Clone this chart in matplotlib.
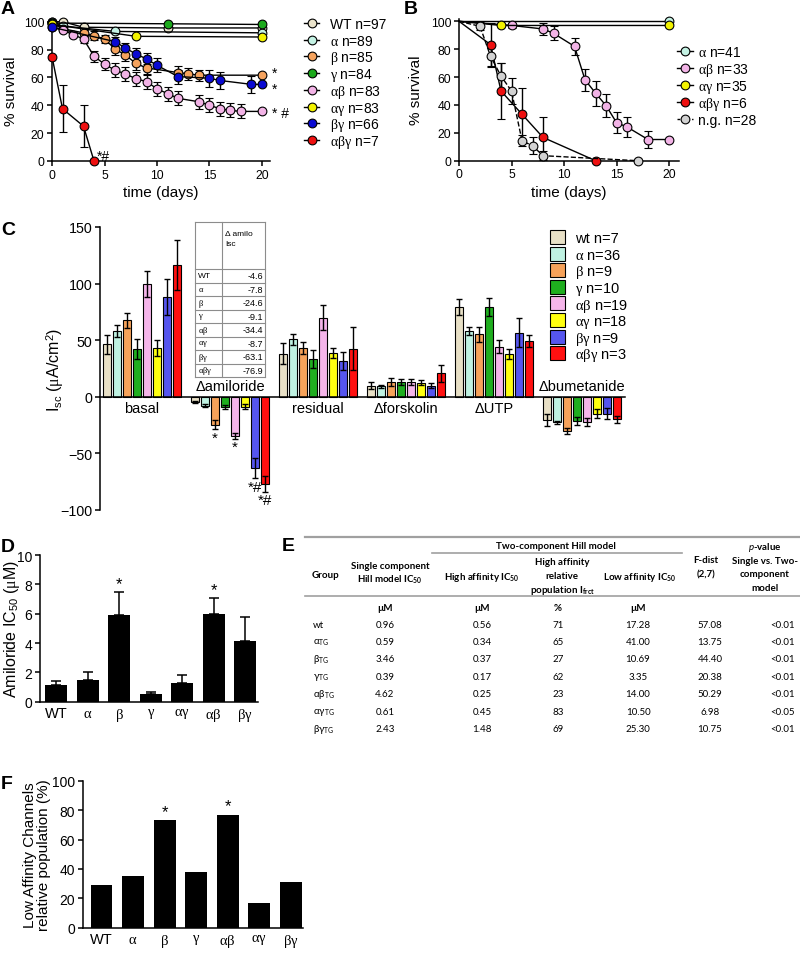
import re
import numpy as np
import matplotlib
matplotlib.use('Agg')
import matplotlib.pyplot as plt

plt.rcParams['font.family'] = ['Liberation Sans', 'DejaVu Sans']
plt.rcParams['mathtext.fontset'] = 'custom'
plt.rcParams['mathtext.rm'] = 'Liberation Serif'
plt.rcParams['mathtext.it'] = 'Lato:italic'
plt.rcParams['mathtext.bf'] = 'Liberation Serif:bold'
plt.rcParams['axes.linewidth'] = 1.1
plt.rcParams['xtick.major.width'] = 1.1
plt.rcParams['ytick.major.width'] = 1.1
plt.rcParams['xtick.major.size'] = 3.5
plt.rcParams['ytick.major.size'] = 3.5

# ======================= DATA =======================
# Panel A: survival curves
A_labels = ['WT n=97', 'α n=89', 'β n=85', 'γ n=84', 'αβ n=83', 'αγ n=83', 'βγ n=66', 'αβγ n=7']
A_days = [
    [0, 1, 3, 11, 20],
    [0, 1, 6, 20],
    [0, 1, 3, 4, 5, 6, 7, 8, 9, 12, 13, 14, 20],
    [0, 11, 20],
    [0, 1, 2, 3, 4, 5, 6, 7, 8, 9, 10, 11, 12, 14, 15, 16, 17, 18, 20],
    [0, 8, 20],
    [0, 6, 7, 8, 9, 10, 12, 15, 16, 19, 20],
    [0, 1, 3, 4],
]
A_surv = [
    [100, 100, 96, 95.5, 95.5],
    [100, 97, 93, 92],
    [99, 95, 92, 90, 87.6, 80.4, 76, 70, 66.8, 63.5, 62.5, 61.6, 61.6],
    [99, 98.5, 98],
    [96, 94, 90.7, 87.6, 75.2, 69.5, 65.2, 62.5, 59, 57, 51.8, 48.4, 45, 42.5, 40, 37.5, 36.3, 35.6, 35.6],
    [98, 89.5, 89],
    [96, 85.7, 81, 76.8, 73.3, 68.7, 60.6, 59.4, 57.8, 55, 55],
    [75, 37.5, 25, 0],
]
A_err = [
    [0, 0, 0, 0, 0],
    [0, 0, 0, 0],
    [0, 1.5, 2, 3, 3, 4, 4, 4.5, 4.5, 4.5, 4, 4, 0],
    [0, 0, 0],
    [0, 1, 2, 3, 4, 4.5, 5, 5, 5, 5, 5, 5, 5, 5, 5, 5, 5, 5, 0],
    [0, 0, 0],
    [0, 3, 4, 4, 4, 5, 5, 6, 6, 6, 0],
    [0, 17, 15, 0],
]
A_notes = [(20.95, 63, '*'), (20.95, 52, '*'), (20.95, 34.5, '* #'), (4.3, 3.5, '*#')]

# Panel B: survival curves
B_labels = ['α n=41', 'αβ n=33', 'αγ n=35', 'αβγ n=6', 'n.g. n=28']
B_days = [
    [0, 20],
    [0, 5, 8, 9, 11, 12, 13, 14, 15, 16, 18, 20],
    [0, 4, 20],
    [0, 3, 4, 6, 8, 13],
    [0, 2, 3, 4, 5, 6, 7, 8, 17],
]
B_surv = [
    [100, 100],
    [100, 97, 94.5, 91.4, 82, 58, 48.5, 39.5, 27.3, 24.2, 15.2, 15.2],
    [100, 97, 97],
    [100, 83.3, 50, 33.3, 16.7, 0],
    [100, 96.4, 75, 60.7, 50, 14.3, 10.7, 3.6, 0],
]
B_err = [
    [0, 0],
    [0, 1.5, 4, 5, 6, 8, 9, 8.5, 7.5, 7, 6, 0],
    [0, 0, 0],
    [0, 15.5, 20, 19, 15, 0],
    [0, 3, 8, 9.5, 9, 4, 6, 3, 0],
]

# Panel C: short-circuit currents
C_labels = ['wt n=7', 'α n=36', 'β n=9', 'γ n=10', 'αβ n=19', 'αγ n=18', 'βγ n=9', 'αβγ n=3']
C_groups = ['basal', 'Δamiloride', 'residual', 'Δforskolin', 'ΔUTP', 'Δbumetanide']
C_basal = [46.5, 58.0, 67.6, 42.0, 99.4, 43.0, 88.5, 116.5]
C_basal_err = [8.5, 5.5, 6.8, 9.0, 11.6, 7.0, 15.9, 22.0]
C_amil = [-4.6, -7.8, -24.6, -9.1, -34.4, -8.7, -63.1, -76.9]
C_amil_err = [1.0, 1.0, 4.0, 2.0, 2.5, 2.0, 9.0, 7.0]
C_resid = [38.2, 50.9, 43.5, 33.2, 70.0, 39.1, 31.8, 42.6]
C_resid_err = [9.2, 5.0, 5.3, 8.0, 11.0, 4.4, 7.9, 19.2]
C_forsk = [9.7, 9.1, 12.9, 12.9, 12.9, 12.4, 9.7, 20.6]
C_forsk_err = [3.2, 1.2, 3.3, 2.7, 2.7, 2.0, 2.3, 7.9]
C_utp = [79.4, 58.2, 55.3, 79.7, 44.4, 37.6, 56.8, 49.4]
C_utp_err = [6.8, 3.8, 6.7, 7.9, 5.6, 4.4, 13.2, 5.3]
C_bumet = [-20.6, -22.4, -30.3, -21.5, -22.4, -15.0, -15.0, -20.0]
C_bumet_err = [5.3, 1.4, 2.9, 3.8, 3.5, 4.0, 5.0, 3.0]
C_amil_sig = ['', '', '*', '', '*', '', '*#', '*#']
C_table_rows = ['WT', 'α', 'β', 'γ', 'αβ', 'αγ', 'βγ', 'αβγ']

# Panel D: amiloride IC50
D_groups = ['WT', 'α', 'β', 'γ', 'αγ', 'αβ', 'βγ']
D_ic50 = [1.15, 1.5, 5.9, 0.5, 1.25, 6.0, 4.15]
D_err = [0.25, 0.55, 1.6, 0.15, 0.6, 1.1, 1.65]
D_sig = ['', '', '*', '', '', '*', '']

# Panel E: Hill model table
E_groups = ['wt', 'α', 'β', 'γ', 'αβ', 'αγ', 'βγ']
E_single = [0.96, 0.59, 3.46, 0.39, 4.62, 0.61, 2.43]
E_high = [0.56, 0.34, 0.37, 0.17, 0.25, 0.45, 1.48]
E_frct = [71, 65, 27, 62, 23, 83, 69]
E_low = [17.28, 41.00, 10.69, 3.35, 14.00, 10.50, 25.30]
E_fdist = [57.08, 13.75, 44.40, 20.38, 50.29, 6.98, 10.75]
E_p = ['<0.01', '<0.01', '<0.01', '<0.01', '<0.01', '<0.05', '<0.01']

# Panel F: low affinity population
F_groups = ['WT', 'α', 'β', 'γ', 'αβ', 'αγ', 'βγ']
F_pop = [29, 35, 73, 38, 77, 17, 31]
F_sig = ['', '', '*', '', '*', '', '']

# ======================= STYLE =======================
A_colors = ['#ebe4cc', '#c4f2e4', '#f5a35e', '#1caa1c', '#f2b3e6', '#f2f200', '#0a0ad2', '#ee1010']
B_colors = ['#c4f2e4', '#f2b3e6', '#f2f200', '#ee1010', '#d2d2d2']
B_styles = ['-', '-', '-', '-', '--']
C_colors = ['#e8e0c6', '#bff2e2', '#f6a25a', '#1fae1f', '#f5b5ea', '#ffff10', '#5555ee', '#ff1010']

GREEK = {'α': r'\alpha', 'β': r'\beta', 'γ': r'\gamma', 'µ': r'\mu', 'μ': r'\mu'}


def gk(s):
    return re.sub('[αβγµμ]+',
                  lambda m: r'$\mathrm{' + ''.join(GREEK[c] for c in m.group()) + '}$', s)


W, H = 800.0, 954.0
fig = plt.figure(figsize=(8, 9.54), dpi=100)


def px_axes(x0, x1, y0, y1):
    ax = fig.add_axes([x0 / W, 1 - y1 / H, (x1 - x0) / W, (y1 - y0) / H])
    for s in ('top', 'right'):
        ax.spines[s].set_visible(False)
    ax.tick_params(direction='out', colors='black')
    return ax


def ylab_at(ax, x0, x1, xpx):
    ax.yaxis.label.set_va('center')
    ax.yaxis.set_label_coords((xpx - x0) / (x1 - x0), 0.5)


def xlab_at(ax, y0, y1, ypx):
    ax.xaxis.label.set_va('center')
    ax.xaxis.set_label_coords(0.5, (y1 - ypx) / (y1 - y0))


def survival(ax, days, surv, errs, colors, styles, skip_first):
    for t, y, e, c, ls in zip(days, surv, errs, colors, styles):
        e = np.asarray(e, float)
        me = list(range(1, len(t))) if skip_first else None
        ax.errorbar(t, y, yerr=np.where(e > 0, e, np.nan), color='black', lw=1.0, ls=ls,
                    elinewidth=1.0, capsize=3, capthick=1.0, marker='o', ms=6.3,
                    mfc=c, mec='black', mew=0.8, markevery=me, clip_on=False, zorder=3)


# ---------------- Panel A ----------------
ax = px_axes(52, 270.4, 19.9, 162)
survival(ax, A_days, A_surv, A_err, A_colors, ['-'] * 8, False)
ax.set_xlim(0, 20.8)
ax.set_ylim(0, 102)
ax.set_xticks([0, 5, 10, 15, 20])
ax.set_yticks(range(0, 101, 20))
ax.tick_params(labelsize=8.8, pad=2)
ax.set_xlabel('time (days)', fontsize=11)
ax.set_ylabel('% survival', fontsize=11)
ylab_at(ax, 52, 270.4, 11)
xlab_at(ax, 19.9, 162, 193)
for x, y, s in A_notes:
    ax.text(x, y, s, fontsize=10, ha='left', va='center', clip_on=False)

# ---------------- Panel B ----------------
ax = px_axes(459, 678.5, 19.5, 161.7)
survival(ax, B_days, B_surv, B_err, B_colors, B_styles, True)
ax.set_xlim(0, 20.9)
ax.set_ylim(0, 102)
ax.set_xticks([0, 5, 10, 15, 20])
ax.set_yticks(range(0, 101, 20))
ax.tick_params(labelsize=8.8, pad=2)
ax.set_xlabel('time (days)', fontsize=11)
ax.set_ylabel('% survival', fontsize=11)
ylab_at(ax, 459, 678.5, 416)
xlab_at(ax, 19.5, 161.7, 193)

# ---------------- Panel C ----------------
x0C, x1C, first_bar, bar_px = 100, 625, 107, 10.0
ax = px_axes(x0C, x1C, 228, 511)
gap = 8.8
C_vals = [C_basal, C_amil, C_resid, C_forsk, C_utp, C_bumet]
C_errs = [C_basal_err, C_amil_err, C_resid_err, C_forsk_err, C_utp_err, C_bumet_err]
for g, (vals, errs) in enumerate(zip(C_vals, C_errs)):
    xs = g * gap + np.arange(8)
    ax.bar(xs, vals, width=0.8, color=C_colors, edgecolor='black', linewidth=0.8,
           yerr=errs, capsize=2, error_kw=dict(elinewidth=1.0, capthick=1.0), zorder=2)
    xc = g * gap + 3.5
    if np.mean(vals) > 0:
        ax.text(xc, -3.5, C_groups[g], ha='center', va='top', fontsize=10.5)
    else:
        ax.text(xc, 3, C_groups[g], ha='center', va='bottom', fontsize=10.5)
    if g == 1:
        for i, s in enumerate(C_amil_sig):
            if s:
                ax.text(xs[i], vals[i] - errs[i] - 1.5, s, ha='center', va='top', fontsize=11)
ax.spines['bottom'].set_position(('data', 0))
ax.set_xticks([])
ax.set_xlim((x0C - first_bar) / bar_px, (x1C - first_bar) / bar_px)
ax.set_ylim(-100, 150)
ax.set_yticks([-100, -50, 0, 50, 100, 150])
ax.tick_params(labelsize=10.3, pad=2)
ax.set_ylabel(gk('I$_\\mathregular{sc}$ (µA/cm$^\\mathregular{2}$)'), fontsize=11.5)
ylab_at(ax, x0C, x1C, 55)

# ---------------- Panel D ----------------
ax = px_axes(40, 258, 556, 702.7)
xd = np.arange(len(D_groups))
ax.bar(xd, D_ic50, width=0.7, color='black', yerr=[np.zeros(len(D_err)), D_err],
       capsize=3.5, error_kw=dict(elinewidth=1.1, capthick=1.1))
for i, s in enumerate(D_sig):
    if s:
        ax.text(xd[i], D_ic50[i] + D_err[i] + 0.05, s, ha='center', va='bottom', fontsize=12)
ax.set_xlim(-0.52, 6.41)
ax.set_ylim(0, 10)
ax.set_yticks(range(0, 11, 2))
ax.set_xticks(xd)
ax.set_xticklabels([gk(s) for s in D_groups], fontsize=10.5)
ax.tick_params(axis='x', length=0, pad=3)
ax.tick_params(axis='y', labelsize=10, pad=2)
ax.set_ylabel(gk('Amiloride IC$_\\mathregular{50}$ (µM)'), fontsize=11.5)
ylab_at(ax, 40, 258, 12)

# ---------------- Panel F ----------------
ax = px_axes(82.7, 303, 781.7, 928.7)
xf = np.arange(len(F_groups))
ax.bar(xf, F_pop, width=0.69, color='black')
for i, s in enumerate(F_sig):
    if s:
        ax.text(xf[i], F_pop[i] + 1, s, ha='center', va='bottom', fontsize=12)
ax.set_xlim(-0.6, 6.39)
ax.set_ylim(0, 100)
ax.set_yticks(range(0, 101, 20))
ax.set_xticks(xf)
ax.set_xticklabels([gk(s) for s in F_groups], fontsize=10.5)
ax.tick_params(axis='x', length=0, pad=3)
ax.tick_params(axis='y', labelsize=10, pad=2)
ax.set_ylabel('Low Affinity Channels\nrelative population (%)', fontsize=11, linespacing=1.0)
ylab_at(ax, 82.7, 303, 37)

# ---------------- Overlay (legends, tables, letters) ----------------
ov = fig.add_axes([0, 0, 1, 1], zorder=10)
ov.set_xlim(0, W)
ov.set_ylim(H, 0)
ov.axis('off')

for s, (x, y) in zip('ABCDEF', [(1, 1), (404, 1), (1, 222), (1, 539), (282, 538), (1, 776)]):
    ov.text(x, y, s, fontsize=14, fontweight='bold', ha='left', va='top')


def marker_legend(xl0, xl1, xt, y0, dy, labels, colors, styles, fs):
    for i, (lab, c, ls) in enumerate(zip(labels, colors, styles)):
        y = y0 + i * dy
        ov.plot([xl0, xl1], [y, y], color='black', lw=1.0, ls=(0, (2, 1.5)) if ls == '--' else '-')
        ov.plot([(xl0 + xl1) / 2], [y], marker='o', ms=6.3, mfc=c, mec='black', mew=0.8)
        ov.text(xt, y + 0.36 * fs * 100 / 72, gk(lab), fontsize=fs, ha='left', va='baseline')


marker_legend(304, 319, 330, 24, 16.7, A_labels, A_colors, ['-'] * 8, 10)
marker_legend(677, 693, 698, 52.3, 17.0, B_labels, B_colors, B_styles, 10)

# Panel C legend (boxes)
for i, (lab, c) in enumerate(zip(C_labels, C_colors)):
    y = 238 + i * 16.6
    ov.add_patch(plt.Rectangle((550, y - 7), 15, 14, facecolor=c, edgecolor='black', lw=0.8))
    ov.text(575, y + 0.36 * 10.5 * 100 / 72, gk(lab), fontsize=10.5, ha='left', va='baseline')

# Panel C inset table (centred over the Delta-amiloride group)
tcx = first_bar + (gap + 3.5) * bar_px
tx0, tx1 = tcx - 35, tcx + 35
txs = tx0 + 27
ty0, tyh, trow = 223, 270, 13.5
tcol = '#8c8c8c'
nrow = len(C_table_rows)
ybot = tyh + nrow * trow
for xx in (tx0, txs, tx1):
    ov.plot([xx, xx], [ty0, ybot], color=tcol, lw=0.8)
for yy in [ty0, tyh] + [tyh + (k + 1) * trow for k in range(nrow)]:
    ov.plot([tx0, tx1], [yy, yy], color=tcol, lw=0.8)
ov.text(txs + 3, 234, 'Δ amilo', fontsize=6, ha='left', va='center')
ov.text(txs + 3, 245, 'Isc', fontsize=6, ha='left', va='center')
for k, (r, v) in enumerate(zip(C_table_rows, C_amil)):
    yc = tyh + (k + 0.5) * trow
    ov.text(tx0 + 3, yc, gk(r), fontsize=6, ha='left', va='center')
    ov.text(tx1 - 1.5, yc, f'{v:.1f}', fontsize=6.5, ha='right', va='center')

# Panel E table
ef = dict(family=['Lato', 'Liberation Sans'], fontsize=7)
eb = dict(family=['Lato', 'Liberation Sans'], fontsize=7, fontweight='bold')
gcol = '#a0a0a0'
ov.plot([305, 800], [537.7, 537.7], color=gcol, lw=1.6)
ov.plot([432, 682], [554.3, 554.3], color=gcol, lw=1.2)
ov.plot([305, 800], [597, 597], color=gcol, lw=1.2)
ov.text(312, 576, 'Group', ha='left', va='center', **eb)
ov.text(390, 567, 'Single component', ha='center', va='center', **eb)
ov.text(390, 580, 'Hill model IC$_\\mathregular{50}$', ha='center', va='center', **eb)
ov.text(556, 547, 'Two-component Hill model', ha='center', va='center', **eb)
ov.text(482, 578, 'High affinity IC$_\\mathregular{50}$', ha='center', va='center', **eb)
ov.text(562, 563, 'High affinity', ha='center', va='center', **eb)
ov.text(562, 577, 'relative', ha='center', va='center', **eb)
ov.text(562, 591, 'population I$_\\mathregular{frct}$', ha='center', va='center', **eb)
ov.text(640, 578, 'Low affinity IC$_\\mathregular{50}$', ha='center', va='center', **eb)
ov.text(706, 561, 'F-dist', ha='center', va='center', **eb)
ov.text(706, 575, '(2,7)', ha='center', va='center', **eb)
ov.text(765, 548, '$p$-value', ha='center', va='center', **eb)
ov.text(765, 562, 'Single vs. Two-', ha='center', va='center', **eb)
ov.text(765, 575, 'component', ha='center', va='center', **eb)
ov.text(765, 589, 'model', ha='center', va='center', **eb)
for xx, u in zip([385, 482, 558, 638], ['µM', 'µM', '%', 'µM']):
    ov.text(xx, 609, u, ha='center', va='center', **eb)
for i, gname in enumerate(E_groups):
    y = 625.3 + i * 17.35
    lab = gname if gname == 'wt' else gname + '$_\\mathregular{TG}$'
    ov.text(313, y, lab, ha='left', va='center', **ef)
    ov.text(385, y, f'{E_single[i]:.2f}', ha='center', va='center', **ef)
    ov.text(482, y, f'{E_high[i]:.2f}', ha='center', va='center', **ef)
    ov.text(558, y, f'{E_frct[i]:d}', ha='center', va='center', **ef)
    ov.text(638, y, f'{E_low[i]:.2f}', ha='center', va='center', **ef)
    ov.text(710, y, f'{E_fdist[i]:.2f}', ha='center', va='center', **ef)
    ov.text(795, y, E_p[i], ha='right', va='center', **ef)

fig.savefig('out.png', dpi=100)
